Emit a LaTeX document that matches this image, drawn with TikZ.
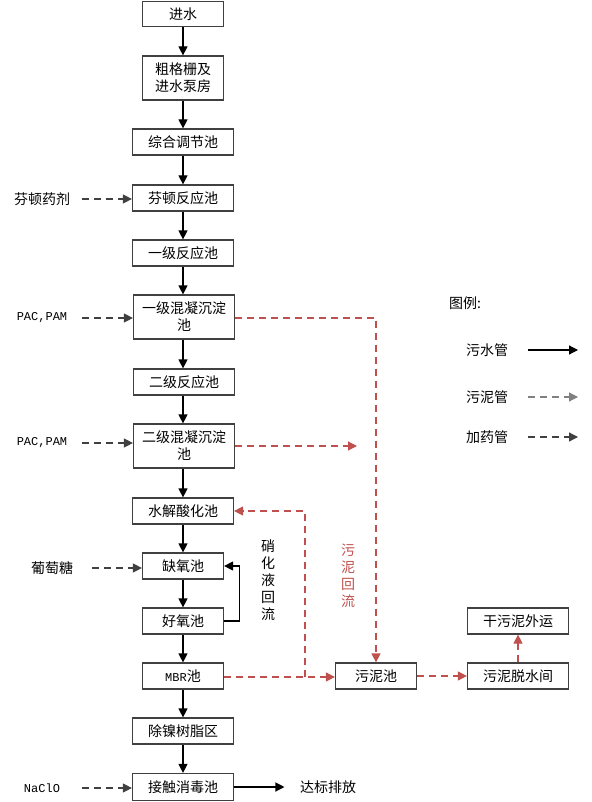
\documentclass[tikz,border=0pt]{standalone}
\usepackage{fontspec}
\setmainfont{Noto Sans CJK SC}
\newfontfamily\latinmono{Liberation Mono}
\usetikzlibrary{arrows.meta, calc}
\definecolor{sludgered}{HTML}{C0504D}
\definecolor{boxline}{HTML}{404040}
\definecolor{dosegray}{HTML}{404040}
\definecolor{legendgray}{HTML}{808080}
\tikzset{
  every node/.style={font=\fontsize{14}{17}\selectfont},
  tank/.style={
    draw=boxline, line width=1.2pt, fill=white,
    minimum width=101pt, minimum height=26pt,
    inner sep=0pt, align=center
  },
  small tank/.style={tank, minimum width=81pt},
  mono/.style={font=\fontsize{12}{14}\latinmono},
  water/.style={-{Triangle[length=9pt,width=9pt]}, line width=1.2pt, black},
  dose/.style={-{Triangle[length=9pt,width=9pt]}, line width=1.2pt, dosegray, dash pattern=on 7pt off 5pt},
  sludge/.style={-{Triangle[length=9pt,width=9pt]}, line width=1.2pt, sludgered, dash pattern=on 7pt off 5pt}
}
\begin{document}
\begin{tikzpicture}[x=1pt, y=-1pt]
  \useasboundingbox (0,0) rectangle (591,802);

  % ====== MAIN TREATMENT LINE ======
  \node[small tank, minimum height=25pt] (inflow) at (183, 14) {进水};
  \node[small tank, minimum height=44pt] (screen) at (183, 78) {粗格栅及\\进水泵房};
  \node[tank] (equal) at (183, 142) {综合调节池};
  \node[tank] (fenton) at (183, 198) {芬顿反应池};
  \node[tank] (react1) at (183, 253) {一级反应池};
  \node[tank, minimum height=44pt] (coag1) at (184, 317) {一级混凝沉淀\\池};
  \node[tank] (react2) at (184, 382) {二级反应池};
  \node[tank, minimum height=44pt] (coag2) at (184, 446) {二级混凝沉淀\\池};
  \node[tank] (hydro) at (183, 511) {水解酸化池};
  \node[small tank] (anoxic) at (183, 566) {缺氧池};
  \node[small tank] (oxic) at (183, 621) {好氧池};
  \node[small tank] (mbr) at (183, 676) {{\latinmono\fontsize{12}{14}\selectfont MBR}池};
  \node[tank] (nickel) at (183, 731) {除镍树脂区};
  \node[tank, minimum height=27pt] (disinf) at (183, 787) {接触消毒池};

  \draw[water] (inflow) -- (screen);
  \draw[water] (screen) -- (equal);
  \draw[water] (equal) -- (fenton);
  \draw[water] (fenton) -- (react1);
  \draw[water] (react1) -- (react1 |- coag1.north);
  \draw[water] (react1 |- coag1.south) -- (react1 |- react2.north);
  \draw[water] (react1 |- react2.south) -- (react1 |- coag2.north);
  \draw[water] (react1 |- coag2.south) -- (hydro);
  \draw[water] (hydro) -- (anoxic);
  \draw[water] (anoxic) -- (oxic);
  \draw[water] (oxic) -- (mbr);
  \draw[water] (mbr) -- (nickel);
  \draw[water] (nickel) -- (disinf);

  % ====== DISCHARGE ======
  \node (discharge) at (328, 787) {达标排放};
  \draw[water] (disinf.east) -- ($(discharge.west) + (-12, 0)$);

  % ====== NITRIFIED LIQUID RETURN ======
  \draw[water] (oxic.east) -- ++(15, 0) |- (anoxic.east);
  \node[align=center] (nitrotext) at (268, 580) {硝\\化\\液\\回\\流};

  % ====== DOSING ======
  \node (fentondose) at (42, 199) {芬顿药剂};
  \node[mono] (pac1) at (42, 318) {PAC,PAM};
  \node[mono] (pac2) at (42, 443) {PAC,PAM};
  \node (glucose) at (52, 568) {葡萄糖};
  \node[mono] (naclo) at (42, 788) {NaClO};
  \draw[dose] (82, 199) -- (fenton.west |- 0, 199);
  \draw[dose] (82, 318) -- (coag1.west |- 0, 318);
  \draw[dose] (82, 443) -- (coag2.west |- 0, 443);
  \draw[dose] (92, 568) -- (anoxic.west |- 0, 568);
  \draw[dose] (82, 788) -- (disinf.west |- 0, 788);

  % ====== SLUDGE LINE ======
  \node[small tank] (sludgepit) at (376, 676) {污泥池};
  \node[tank] (dewater) at (518, 676) {污泥脱水间};
  \node[tank] (cakeout) at (518, 621) {干污泥外运};
  \coordinate (coag2end) at (357, 446);
  \coordinate (retsplit) at (305, 677);

  \draw[sludge] (coag1.east |- 0, 318) -| (sludgepit.north);
  \draw[sludge] (coag2.east) -- (coag2end);
  \draw[sludge] (mbr.east |- 0, 677) -- (sludgepit.west |- 0, 677);
  \draw[sludge] (retsplit) |- (hydro.east);
  \draw[sludge] (sludgepit) -- (dewater);
  \draw[sludge] (dewater) -- (cakeout);
  \node[align=center, text=sludgered] (sludgetext) at (348, 576) {污\\泥\\回\\流};

  % ====== LEGEND ======
  \node (legendtitle) at (465, 303) {图例:};
  \node (lgwater) at (487, 350) {污水管};
  \node (lgsludge) at (487, 397) {污泥管};
  \node (lgdose) at (487, 437) {加药管};
  \coordinate (lgw1) at (528, 350); \coordinate (lgw2) at (578, 350);
  \coordinate (lgs1) at (528, 397); \coordinate (lgs2) at (578, 397);
  \coordinate (lgd1) at (528, 437); \coordinate (lgd2) at (578, 437);
  \draw[water] (lgw1) -- (lgw2);
  \draw[dose, legendgray] (lgs1) -- (lgs2);
  \draw[dose] (lgd1) -- (lgd2);
\end{tikzpicture}
\end{document}
